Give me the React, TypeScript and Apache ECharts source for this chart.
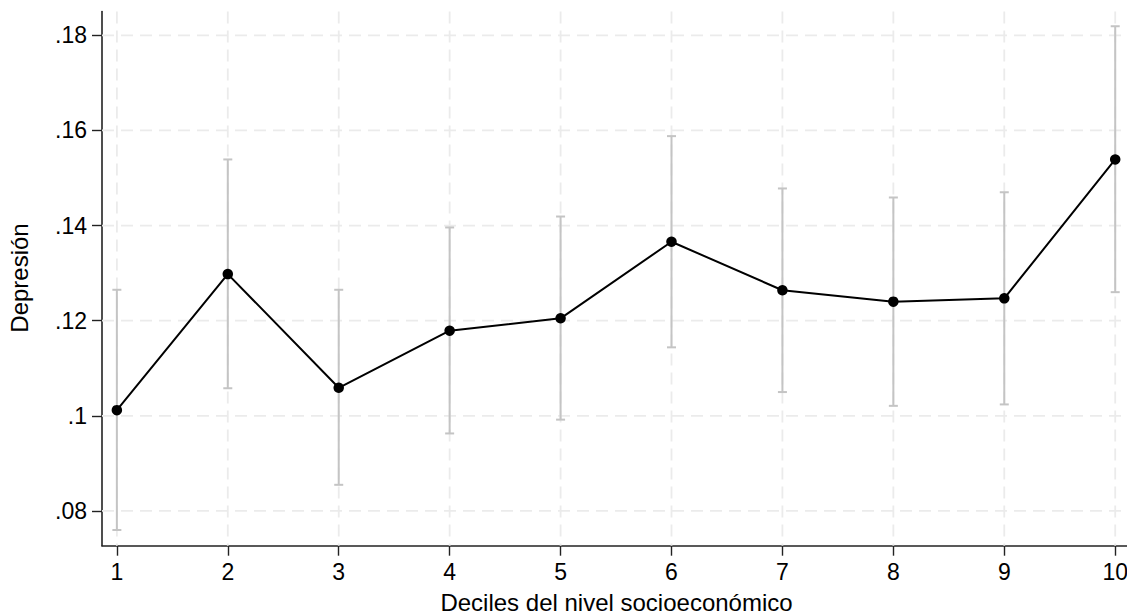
import React, { useEffect, useRef } from "react";
import * as echarts from "echarts";

// Socioeconomic deciles and the estimated depression prevalence with 95% CI
const deciles = [1, 2, 3, 4, 5, 6, 7, 8, 9, 10];
const means = [0.1012, 0.1298, 0.1059, 0.1179, 0.1205, 0.1366, 0.1264, 0.124, 0.1247, 0.1539];
const lower = [0.076, 0.1058, 0.0855, 0.0963, 0.0992, 0.1144, 0.105, 0.1021, 0.1024, 0.126];
const upper = [0.1265, 0.1539, 0.1265, 0.1396, 0.1419, 0.1588, 0.1478, 0.1459, 0.147, 0.1819];

const yTicks = [0.08, 0.1, 0.12, 0.14, 0.16, 0.18];
const yTickLabels = [".08", ".1", ".12", ".14", ".16", ".18"];

const xTitle = "Deciles del nivel socioeconómico";
const yTitle = "Depresión";

const FONT = "'Liberation Sans', Arial, Helvetica, sans-serif";
const GRID_COLOR = "#ebebeb";
const CI_COLOR = "#c4c4c4";

// the plot region runs a few pixels past the visible frame on the right
const CHART_W = 1131;
const CHART_H = 616;

export default function App() {
  const ref = useRef<HTMLDivElement>(null);

  useEffect(() => {
    if (!ref.current) return;
    const chart = echarts.init(ref.current, undefined, { renderer: "svg" });

    const dashed = { stroke: GRID_COLOR, lineWidth: 1.8, lineDash: [12, 7] };

    const option: any = {
      animation: false,
      backgroundColor: "#ffffff",
      grid: { left: 102, right: 0, top: 11.5, bottom: 70.3, containLabel: false },
      xAxis: {
        type: "value",
        min: 0.866,
        max: 10.121,
        splitLine: { show: false },
        axisLine: { show: true, lineStyle: { color: "#222", width: 1.6 } },
        axisTick: {
          show: true,
          customValues: deciles,
          length: 10,
          lineStyle: { color: "#222", width: 1.4 },
        },
        axisLabel: {
          customValues: deciles,
          fontSize: 23,
          fontFamily: FONT,
          color: "#000",
          margin: 15,
        },
      },
      yAxis: {
        type: "value",
        min: 0.0727,
        max: 0.185,
        splitLine: { show: false },
        axisLine: { show: true, lineStyle: { color: "#222", width: 1.6 } },
        axisTick: {
          show: true,
          customValues: yTicks,
          length: 10,
          lineStyle: { color: "#222", width: 1.4 },
        },
        axisLabel: {
          customValues: yTicks,
          fontSize: 23,
          fontFamily: FONT,
          color: "#000",
          margin: 15,
          formatter: (v: number) => {
            const i = yTicks.findIndex((t) => Math.abs(t - v) < 1e-9);
            return i >= 0 ? yTickLabels[i] : "";
          },
        },
      },
      graphic: [
        {
          type: "text",
          x: 616.5,
          y: 602.5,
          style: {
            text: xTitle,
            x: 0,
            y: 0,
            align: "center",
            verticalAlign: "middle",
            fontSize: 24,
            fontFamily: FONT,
            fill: "#000",
          },
        },
        {
          type: "text",
          x: 19.5,
          y: 278,
          rotation: Math.PI / 2,
          style: {
            text: yTitle,
            x: 0,
            y: 0,
            align: "center",
            verticalAlign: "middle",
            fontSize: 24,
            fontFamily: FONT,
            fill: "#000",
          },
        },
      ],
      series: [
        {
          // horizontal dashed grid at the y tick values
          type: "custom",
          z: 1,
          silent: true,
          data: yTicks.map((v) => [v]),
          encode: { y: 0 },
          renderItem: (params: any, api: any) => {
            const cs = params.coordSys;
            const y = api.coord([deciles[0], api.value(0)])[1];
            return {
              type: "line",
              shape: { x1: cs.x, y1: y, x2: cs.x + cs.width, y2: y },
              style: dashed,
            };
          },
        },
        {
          // vertical dashed grid at each decile
          type: "custom",
          z: 1,
          silent: true,
          data: deciles.map((d) => [d]),
          encode: { x: 0 },
          renderItem: (params: any, api: any) => {
            const cs = params.coordSys;
            const x = api.coord([api.value(0), yTicks[0]])[0];
            return {
              type: "line",
              shape: { x1: x, y1: cs.y, x2: x, y2: cs.y + cs.height },
              style: dashed,
            };
          },
        },
        {
          // confidence intervals with caps
          type: "custom",
          z: 2,
          silent: true,
          data: deciles.map((d, i) => [d, lower[i], upper[i]]),
          encode: { x: 0, y: [1, 2] },
          renderItem: (_params: any, api: any) => {
            const lo = api.coord([api.value(0), api.value(1)]);
            const hi = api.coord([api.value(0), api.value(2)]);
            const half = 4.5;
            const style = { stroke: CI_COLOR, lineWidth: 2 };
            return {
              type: "group",
              children: [
                { type: "line", shape: { x1: lo[0], y1: lo[1], x2: hi[0], y2: hi[1] }, style },
                { type: "line", shape: { x1: hi[0] - half, y1: hi[1], x2: hi[0] + half, y2: hi[1] }, style },
                { type: "line", shape: { x1: lo[0] - half, y1: lo[1], x2: lo[0] + half, y2: lo[1] }, style },
              ],
            };
          },
        },
        {
          type: "line",
          z: 3,
          data: deciles.map((d, i) => [d, means[i]]),
          symbol: "circle",
          symbolSize: 10.5,
          itemStyle: { color: "#000" },
          lineStyle: { color: "#000", width: 2 },
        },
      ],
    };

    chart.setOption(option);
    return () => chart.dispose();
  }, []);

  return (
    <div
      style={{
        position: "absolute",
        left: 0,
        top: 0,
        width: 1127,
        height: 616,
        overflow: "hidden",
        background: "#fff",
      }}
    >
      <div ref={ref} style={{ width: CHART_W, height: CHART_H }} />
    </div>
  );
}
